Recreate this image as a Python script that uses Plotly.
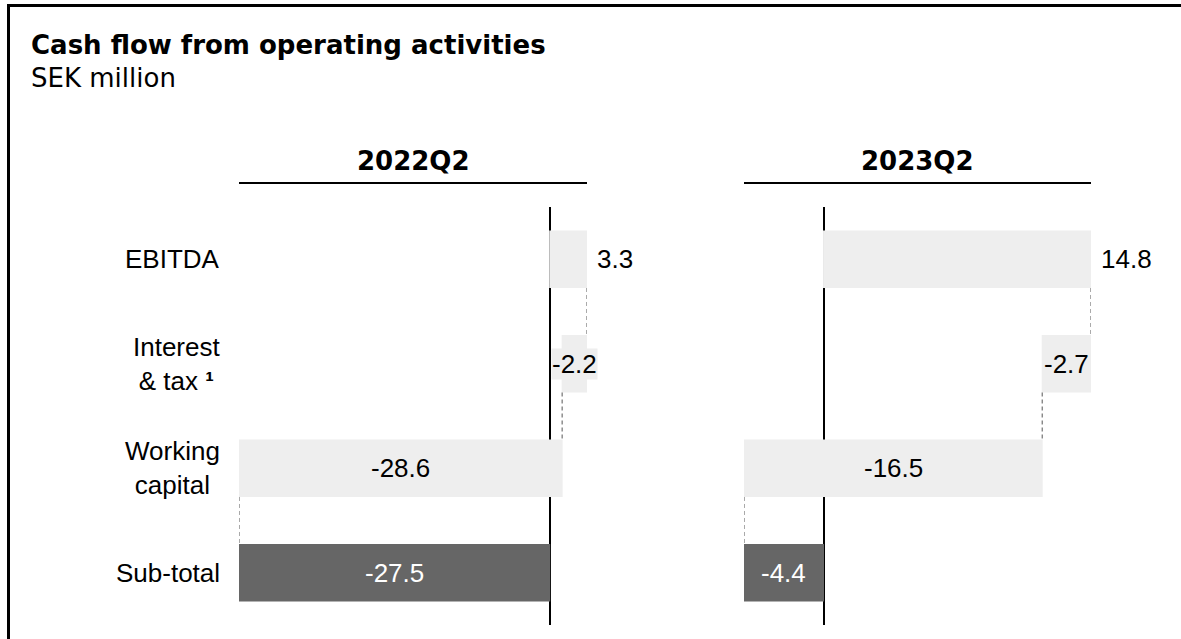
import plotly.graph_objects as go

# ---- data -------------------------------------------------------------
categories = ["EBITDA", "Interest<br>& tax <b>¹</b>", "Working<br>capital", "Sub-total"]
measures = ["relative", "relative", "relative", "total"]
periods = ["2022Q2", "2023Q2"]
values_2022q2 = [3.3, -2.2, -28.6, -27.5]
values_2023q2 = [14.8, -2.7, -16.5, -4.4]
series = [values_2022q2, values_2023q2]

# ---- styling ----------------------------------------------------------
W, H = 1181, 639
LIGHT = "#eeeeee"
DARK = "#666666"
LABEL_FONT = "Liberation Sans, Arial, sans-serif"
HEAD_FONT = "DejaVu Sans, Verdana, sans-serif"
FS = 26

# panel placement in pixels (left, right) and the plot band (top, bottom)
panel_px = [(239, 587), (744, 1091)]
plot_top, plot_bottom = 207, 625


def px_x(p):
    return p / W


def px_y(p):
    return 1 - p / H


fig = go.Figure()
annotations = []
shapes = []

for k, (vals, period) in enumerate(zip(series, periods)):
    xa = "x" if k == 0 else "x2"
    ya = "y" if k == 0 else "y2"

    fig.add_trace(go.Waterfall(
        orientation="h",
        y=categories,
        x=vals,
        measure=measures,
        xaxis=xa,
        yaxis=ya,
        increasing=dict(marker=dict(color=LIGHT, line=dict(width=0))),
        decreasing=dict(marker=dict(color=LIGHT, line=dict(width=0))),
        totals=dict(marker=dict(color=DARK, line=dict(width=0))),
        connector=dict(mode="between", line=dict(color="#555555", width=1, dash="4px,3px")),
        hoverinfo="skip",
        showlegend=False,
    ))

    # running positions of each bar
    starts, ends = [], []
    run = 0.0
    for v, m in zip(vals, measures):
        if m == "total":
            starts.append(0.0)
            ends.append(run)
        else:
            starts.append(run)
            run += v
            ends.append(run)

    lo = min(starts + ends)
    hi = max(starts + ends)
    axis_key = "xaxis" if k == 0 else "xaxis2"
    fig.update_layout(**{axis_key: dict(
        domain=[px_x(panel_px[k][0]), px_x(panel_px[k][1])],
        range=[lo, hi],
        showticklabels=False, showgrid=False, ticks="",
        zeroline=True, zerolinecolor="black", zerolinewidth=2,
        showline=False, fixedrange=True,
        anchor=ya,
    )})

    # value labels
    for i, (v, m) in enumerate(zip(vals, measures)):
        txt = f"{v:.1f}"
        if m == "total":
            annotations.append(dict(
                x=(starts[i] + ends[i]) / 2, y=categories[i], xref=xa, yref=ya,
                text=txt, showarrow=False, xanchor="center", yanchor="middle",
                font=dict(family=LABEL_FONT, size=FS, color="white"),
            ))
        elif v > 0 and i == 0:
            annotations.append(dict(
                x=ends[i], y=categories[i], xref=xa, yref=ya,
                text=txt, showarrow=False, xanchor="left", yanchor="middle",
                xshift=8,
                font=dict(family=LABEL_FONT, size=FS, color="black"),
            ))
        else:
            annotations.append(dict(
                x=(starts[i] + ends[i]) / 2, y=categories[i], xref=xa, yref=ya,
                text=txt, showarrow=False, xanchor="center", yanchor="middle",
                bgcolor=LIGHT, borderpad=0,
                font=dict(family=LABEL_FONT, size=FS, color="black"),
            ))

    # period header with rule underneath
    cx = (panel_px[k][0] + panel_px[k][1]) / 2
    annotations.append(dict(
        x=px_x(cx), y=px_y(161), xref="paper", yref="paper",
        text=f"<b>{period}</b>", showarrow=False,
        xanchor="center", yanchor="middle",
        font=dict(family=HEAD_FONT, size=FS, color="black"),
    ))
    shapes.append(dict(
        type="line", xref="paper", yref="paper",
        x0=px_x(panel_px[k][0]), x1=px_x(panel_px[k][1]),
        y0=px_y(183), y1=px_y(183),
        line=dict(color="black", width=2),
    ))

# category labels to the left of the first panel
for c in categories:
    annotations.append(dict(
        x=px_x(222), y=c, xref="paper", yref="y",
        text=c, showarrow=False, xanchor="right", yanchor="middle", align="center",
        font=dict(family=LABEL_FONT, size=FS, color="black"),
    ))

# title and unit
annotations.append(dict(
    x=px_x(29), y=px_y(45), xref="paper", yref="paper",
    text="<b>Cash flow from operating activities</b>", showarrow=False,
    xanchor="left", yanchor="middle",
    font=dict(family=HEAD_FONT, size=FS, color="black"),
))
annotations.append(dict(
    x=px_x(29), y=px_y(78), xref="paper", yref="paper",
    text="SEK million", showarrow=False,
    xanchor="left", yanchor="middle",
    font=dict(family=HEAD_FONT, size=FS, color="black"),
))

# outer frame: left and top edges only
shapes.append(dict(
    type="line", xref="paper", yref="paper",
    x0=px_x(8.5), x1=px_x(8.5), y0=0, y1=px_y(4),
    line=dict(color="black", width=3), layer="above",
))
shapes.append(dict(
    type="line", xref="paper", yref="paper",
    x0=px_x(7), x1=px_x(1181), y0=px_y(5.5), y1=px_y(5.5),
    line=dict(color="black", width=3), layer="above",
))

ydom = [px_y(plot_bottom), px_y(plot_top)]
fig.update_layout(
    width=W, height=H,
    margin=dict(l=0, r=0, t=0, b=0),
    paper_bgcolor="white", plot_bgcolor="rgba(0,0,0,0)",
    waterfallgap=0.45,
    yaxis=dict(domain=ydom, type="category", categoryorder="array", categoryarray=categories,
               range=[3.5, -0.5], showticklabels=False, showgrid=False, zeroline=False,
               ticks="", fixedrange=True),
    yaxis2=dict(domain=ydom, type="category", categoryorder="array", categoryarray=categories,
                range=[3.5, -0.5], showticklabels=False, showgrid=False, zeroline=False,
                ticks="", fixedrange=True, anchor="x2"),
    annotations=annotations,
    shapes=shapes,
)

fig.write_html("out.html", config={"displayModeBar": False})
